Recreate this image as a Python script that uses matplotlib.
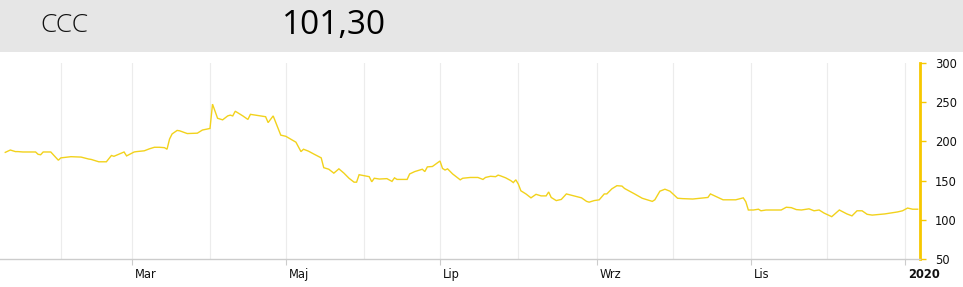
import matplotlib
matplotlib.use("Agg")
import matplotlib.pyplot as plt
import matplotlib.dates as mdates
from matplotlib.patches import Rectangle
import pandas as pd

ticker = "CCC"
last_price = "101,30"

dates = [
    "2019-01-10", "2019-01-12", "2019-01-14", "2019-01-15", "2019-01-17", "2019-01-22",
    "2019-01-23", "2019-01-24", "2019-01-25", "2019-01-28", "2019-01-29", "2019-01-31",
    "2019-02-01", "2019-02-05", "2019-02-09", "2019-02-12", "2019-02-13", "2019-02-16",
    "2019-02-19", "2019-02-21", "2019-02-22", "2019-02-26", "2019-02-27", "2019-03-02",
    "2019-03-03", "2019-03-06", "2019-03-08", "2019-03-10", "2019-03-12", "2019-03-14",
    "2019-03-15", "2019-03-16", "2019-03-17", "2019-03-19", "2019-03-20", "2019-03-23",
    "2019-03-27", "2019-03-29", "2019-04-01", "2019-04-02", "2019-04-04", "2019-04-06",
    "2019-04-08", "2019-04-09", "2019-04-10", "2019-04-11", "2019-04-14", "2019-04-16",
    "2019-04-17", "2019-04-23", "2019-04-24", "2019-04-26", "2019-04-29", "2019-05-01",
    "2019-05-05", "2019-05-07", "2019-05-08", "2019-05-10", "2019-05-12", "2019-05-15",
    "2019-05-16", "2019-05-18", "2019-05-20", "2019-05-22", "2019-05-24", "2019-05-26",
    "2019-05-28", "2019-05-29", "2019-05-30", "2019-06-03", "2019-06-04", "2019-06-05",
    "2019-06-07", "2019-06-10", "2019-06-12", "2019-06-13", "2019-06-14", "2019-06-18",
    "2019-06-19", "2019-06-21", "2019-06-24", "2019-06-25", "2019-06-26", "2019-06-28",
    "2019-07-01", "2019-07-02", "2019-07-03", "2019-07-04", "2019-07-06", "2019-07-09",
    "2019-07-10", "2019-07-13", "2019-07-16", "2019-07-18", "2019-07-19", "2019-07-21",
    "2019-07-23", "2019-07-24", "2019-07-25", "2019-07-27", "2019-07-29", "2019-07-30",
    "2019-07-31", "2019-08-01", "2019-08-02", "2019-08-04", "2019-08-06", "2019-08-08",
    "2019-08-10", "2019-08-12", "2019-08-13", "2019-08-14", "2019-08-16", "2019-08-18",
    "2019-08-20", "2019-08-23", "2019-08-26", "2019-08-28", "2019-08-29", "2019-08-31",
    "2019-09-02", "2019-09-04", "2019-09-05", "2019-09-07", "2019-09-09", "2019-09-11",
    "2019-09-12", "2019-09-16", "2019-09-19", "2019-09-23", "2019-09-24", "2019-09-26",
    "2019-09-28", "2019-09-30", "2019-10-03", "2019-10-05", "2019-10-09", "2019-10-15",
    "2019-10-16", "2019-10-19", "2019-10-21", "2019-10-26", "2019-10-29", "2019-10-30",
    "2019-10-31", "2019-11-02", "2019-11-04", "2019-11-05", "2019-11-07", "2019-11-13",
    "2019-11-15", "2019-11-17", "2019-11-19", "2019-11-21", "2019-11-24", "2019-11-26",
    "2019-11-28", "2019-11-30", "2019-12-03", "2019-12-06", "2019-12-09", "2019-12-11",
    "2019-12-13", "2019-12-15", "2019-12-17", "2019-12-19", "2019-12-24", "2019-12-29",
    "2019-12-31", "2020-01-02", "2020-01-04", "2020-01-06",
]

prices = [
    186, 189, 187, 187, 186.5, 186.5,
    183.5, 183, 186.5, 186.5, 183, 176,
    179, 180.5, 180, 177.5, 177, 174,
    174, 182, 181, 186.5, 181.5, 186.5,
    187, 188, 190.5, 192.5, 192.5, 192,
    190, 203, 209.5, 214, 213.5, 210,
    210.5, 214.5, 216.5, 247.5, 229.5, 227.5,
    232.5, 233.5, 232.5, 238.5, 232.5, 228,
    234.5, 231.5, 224, 232.5, 208, 206.5,
    199, 187, 190, 187.5, 184, 179,
    166.5, 164.5, 159.5, 165, 159.5, 153,
    148, 148, 157.5, 155, 148.5, 153,
    152, 152.5, 149, 153.5, 151.5, 151.5,
    158.5, 161.5, 164.5, 161.5, 167.5, 168,
    175, 165.5, 163.5, 165, 158.5, 151,
    153, 154, 154, 151.5, 154, 155.5,
    155, 157, 156, 153.5, 150, 147.5,
    151, 145.5, 137, 133, 128, 132.5,
    130.5, 130.5, 135.5, 128.5, 124.5, 126,
    133, 130.5, 128, 123.5, 122.5, 124.5,
    125.5, 133, 133, 139.5, 143.5, 143,
    140, 133, 127.5, 123.5, 125.5, 136.5,
    139, 136.5, 127.5, 127, 126.5, 128.5,
    133, 128.5, 125.5, 125.5, 128, 123,
    112.5, 112.5, 113.5, 111.5, 112.5, 112.5,
    116, 115.5, 113, 112.5, 114, 111.5,
    112.5, 108.5, 104, 112.5, 107.5, 105,
    111.5, 111.5, 107, 106, 107.5, 110,
    111.5, 115, 113.5, 113.5,
]

month_ticks = ["2019-03-01", "2019-05-01", "2019-07-01", "2019-09-01", "2019-11-01", "2020-01-01"]
month_labels = ["Mar", "Maj", "Lip", "Wrz", "Lis", "2020"]
minor_ticks = ["2019-02-01", "2019-04-01", "2019-06-01", "2019-08-01", "2019-10-01", "2019-12-01"]
y_ticks = [50, 100, 150, 200, 250, 300]

W, H = 963, 287
fig = plt.figure(figsize=(W / 100, H / 100), dpi=100)
fig.patch.set_facecolor("white")

# header band
fig.patches.append(Rectangle((0, 1 - 52 / H), 1, 52 / H, transform=fig.transFigure,
                             facecolor="#e6e6e6", edgecolor="none", zorder=0))
fig.text(40 / W, 1 - 26 / H, ticker, fontsize=19, family="Open Sans", fontweight="light",
         color="#111111", va="center", ha="left")
fig.text(282 / W, 1 - 25 / H, last_price, fontsize=24, family="Open Sans",
         color="#000000", va="center", ha="left")

ax = fig.add_axes([0, 1 - 259 / H, 920 / W, (259 - 63) / H])
x = pd.to_datetime(dates)
ax.plot(x, prices, color="#f2d21c", lw=1.0, solid_joinstyle="miter")

xmin = pd.Timestamp("2019-01-07 22:00")
xmax = pd.Timestamp("2020-01-06 22:00")
ax.set_xlim(xmin, xmax)
ax.set_ylim(50, 300)

mt = pd.to_datetime(month_ticks)
mn = pd.to_datetime(minor_ticks)
for d in list(mt) + list(mn):
    ax.axvline(d, color="#ececec", lw=0.8, zorder=0)

ax.set_xticks(mt)
ax.set_xticklabels([])
ax.tick_params(axis="x", length=4, color="#cccccc", width=0.8)
for d, lab in zip(mt, month_labels):
    ax.annotate(lab, xy=(mdates.date2num(d), 0), xycoords=("data", "axes fraction"),
                xytext=(2, -11.5), textcoords="offset points", ha="left", va="center",
                fontsize=8.3, family="DejaVu Sans",
                fontweight="bold" if lab == "2020" else "normal", color="#111111")

ax.yaxis.tick_right()
ax.set_yticks(y_ticks)
ax.set_yticklabels([str(v) for v in y_ticks], fontsize=8.3, color="#111111")
ax.tick_params(axis="y", length=4, width=1, color="#f7c800", pad=7)

for s in ["top", "left"]:
    ax.spines[s].set_visible(False)
ax.spines["bottom"].set_color("#cccccc")
ax.spines["bottom"].set_linewidth(1)
ax.spines["right"].set_color("#f7c800")
ax.spines["right"].set_linewidth(2)
ax.patch.set_alpha(0)

fig.savefig("out.png", dpi=100)
